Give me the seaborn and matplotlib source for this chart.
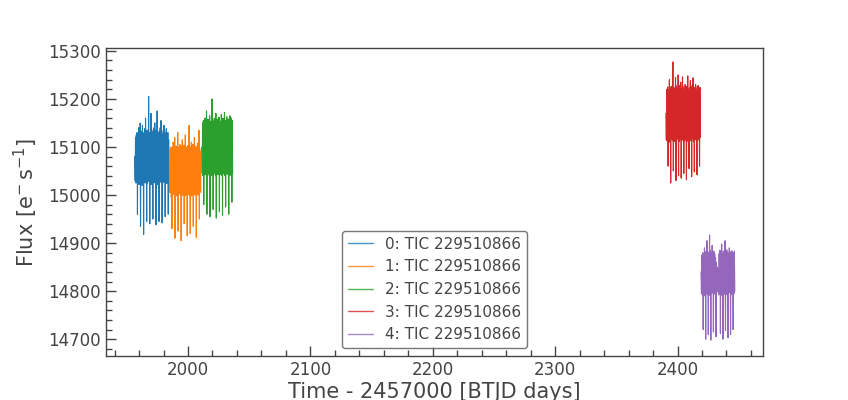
import numpy as np
import pandas as pd
import matplotlib
matplotlib.use("Agg")
import matplotlib.pyplot as plt
import seaborn as sns
from matplotlib.ticker import MultipleLocator

labels = ["0: TIC 229510866", "1: TIC 229510866", "2: TIC 229510866",
          "3: TIC 229510866", "4: TIC 229510866"]
colors = ["#1f77b4", "#ff7f0e", "#2ca02c", "#d62728", "#9467bd"]

# sector time spans (BTJD) : start, end
spans = [(1956.5, 1984.5), (1984.8, 2010.5), (2011.3, 2036.5),
         (2390.5, 2418.7), (2419.2, 2432.8), (2433.3, 2446.8)]

flux_0 = [15080, 15030, 15120, 15025, 15125, 15035, 15130, 14960, 15115, 15030, 15140, 15022, 15128, 15028, 15150, 14935,
          15120, 15035, 15133, 15020, 15145, 15030, 15125, 14918, 15130, 15028, 15138, 15025, 15160, 15030, 15122, 14945,
          15135, 15024, 15128, 15034, 15205, 15028, 15130, 14940, 15125, 15030, 15170, 15022, 15136, 15030, 15127, 14950,
          15132, 15026, 15140, 15033, 15150, 15025, 15124, 14938, 15135, 15030, 15175, 15022, 15131, 15029, 15126, 14945,
          15133, 15035, 15140, 15027, 15155, 15031, 15128, 14942, 15120, 15025, 15134, 15030, 15145, 15028, 15130, 14955,
          15125, 15035, 15138, 15024, 15120, 15030, 15130, 14960, 15115, 15040]
flux_1 = [15070, 15005, 15095, 15010, 15100, 14995, 15092, 14930, 15098, 15002, 15110, 15008, 15090, 15000, 15120, 14910,
          15096, 15005, 15102, 14998, 15094, 15006, 15130, 14925, 15099, 15003, 15088, 15010, 15105, 15000, 15097, 14905,
          15101, 14998, 15115, 15006, 15093, 15002, 15104, 14940, 15096, 15004, 15125, 14999, 15100, 15007, 15092, 14915,
          15103, 15001, 15098, 15009, 15145, 15000, 15095, 14920, 15100, 15005, 15110, 14998, 15094, 15003, 15106, 14935,
          15097, 15008, 15120, 15000, 15102, 15004, 15095, 14912, 15100, 15006, 15108, 15000, 15099, 15002, 15135, 14950,
          15096, 15010, 15090, 15005]
flux_2 = [15100, 15045, 15150, 15040, 15155, 14980, 15148, 15048, 15160, 15042, 15152, 15045, 15175, 14960, 15150, 15040,
          15158, 15046, 15147, 15043, 15165, 14955, 15153, 15048, 15150, 15041, 15200, 15045, 15155, 14970, 15149, 15044,
          15160, 15047, 15152, 15040, 15170, 14952, 15151, 15046, 15158, 15042, 15150, 15048, 15162, 14965, 15154, 15043,
          15148, 15045, 15168, 15041, 15153, 14958, 15160, 15046, 15150, 15044, 15172, 15040, 15155, 14975, 15149, 15047,
          15163, 15043, 15152, 15045, 15158, 14960, 15150, 15042, 15165, 15048, 15153, 15040, 15160, 14985, 15155, 15045]
flux_3 = [15170, 15115, 15220, 15112, 15225, 15060, 15218, 15118, 15240, 15110, 15222, 15025, 15226, 15116, 15219, 15113,
          15277, 15050, 15224, 15117, 15221, 15111, 15245, 15030, 15227, 15115, 15220, 15119, 15250, 15040, 15223, 15112,
          15228, 15116, 15235, 15035, 15221, 15114, 15246, 15118, 15225, 15045, 15219, 15113, 15230, 15117, 15222, 15032,
          15226, 15115, 15248, 15111, 15220, 15055, 15224, 15116, 15238, 15113, 15227, 15038, 15221, 15118, 15244, 15112,
          15225, 15048, 15222, 15115, 15230, 15117, 15220, 15042, 15226, 15114, 15228, 15116, 15221, 15060, 15224, 15120]
flux_4a = [14840, 14795, 14875, 14792, 14880, 14720, 14878, 14798, 14890, 14790, 14882, 14700, 14876, 14796, 14905, 14793,
           14881, 14710, 14879, 14797, 14917, 14791, 14884, 14698, 14877, 14795, 14895, 14799, 14880, 14715, 14883, 14794,
           14878, 14796, 14870, 14705, 14860, 14798, 14850, 14800]
flux_4b = [14845, 14792, 14878, 14797, 14885, 14712, 14880, 14795, 14898, 14791, 14877, 14700, 14883, 14796, 14880, 14794,
           14905, 14718, 14879, 14798, 14886, 14792, 14881, 14703, 14878, 14796, 14890, 14799, 14882, 14710, 14877, 14793,
           14884, 14797, 14880, 14720, 14879, 14795, 14883, 14800]

series = [(flux_0, 0), (flux_1, 1), (flux_2, 2), (flux_3, 3), (flux_4a, 4), (flux_4b, 4)]
frames = []
for seg, ((vals, lab), (t0, t1)) in enumerate(zip(series, spans)):
    frames.append(pd.DataFrame({"time": np.linspace(t0, t1, len(vals)),
                                "flux": vals, "label": labels[lab], "seg": seg}))
df = pd.concat(frames, ignore_index=True)

sns.set_style("white")
txt = "#444444"
plt.rcParams.update({
    "font.family": ["DejaVu Sans"],
    "text.color": txt, "axes.labelcolor": txt,
    "xtick.color": txt, "ytick.color": txt,
    "axes.edgecolor": "#444444",
})

fig = plt.figure(figsize=(8.48, 4.0), dpi=100)
ax = fig.add_axes([0.125, 0.11, 0.775, 0.77])
sns.lineplot(data=df, x="time", y="flux", hue="label", units="seg",
             estimator=None, sort=False, palette=colors, lw=0.8, ax=ax)

ax.set_xlim(1933, 2470)
ax.set_ylim(14665, 15306)
ax.xaxis.set_major_locator(MultipleLocator(100))
ax.xaxis.set_minor_locator(MultipleLocator(20))
ax.yaxis.set_major_locator(MultipleLocator(100))
ax.yaxis.set_minor_locator(MultipleLocator(20))
ax.tick_params(which="both", direction="in", labelsize=12, width=1,
               left=True, bottom=True, top=False, right=False)
ax.tick_params(which="major", length=7)
ax.tick_params(which="minor", length=4)
for s in ax.spines.values():
    s.set_linewidth(1)
    s.set_color("#444444")

ax.set_xlabel("Time - 2457000 [BTJD days]", fontsize=15, labelpad=2)
ax.set_ylabel(r"Flux [$\mathrm{e^{-}\,s^{-1}}$]", fontsize=15, labelpad=6)

leg = ax.legend(loc="lower center", fontsize=11, frameon=True, handlelength=1.6)
leg.get_frame().set_edgecolor("#555555")
for h in leg.get_lines():
    h.set_alpha(0.8)
    h.set_linewidth(1)

fig.savefig("out.png", dpi=100)
